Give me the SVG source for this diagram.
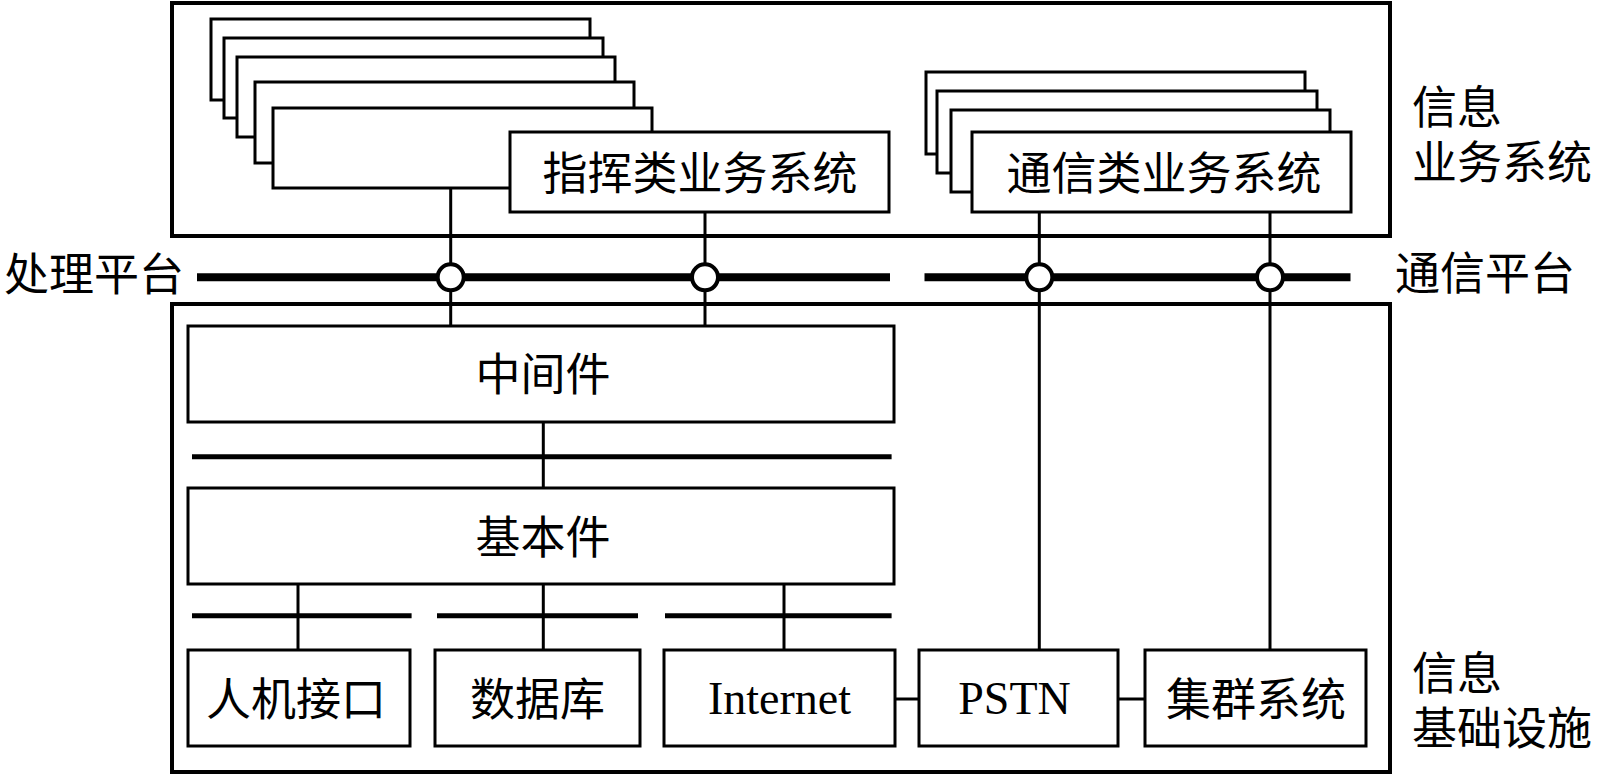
<svg xmlns="http://www.w3.org/2000/svg" width="1600" height="775" viewBox="0 0 1600 775">
<style>
.outer{fill:none;stroke:#000;stroke-width:4}
.box{fill:#fff;stroke:#000;stroke-width:3}
.ln{stroke:#000;stroke-width:3;fill:none}
.sep{stroke:#000;stroke-width:5;fill:none}
.bus{stroke:#000;stroke-width:8;fill:none}
.node{fill:#fff;stroke:#000;stroke-width:4}
.cjk{font-family:"Liberation Serif","Noto Sans CJK SC",serif;font-size:45px;fill:#000}
.lat{font-family:"Liberation Serif",serif;font-size:46px;fill:#000}
.mid{text-anchor:middle}
</style>
<rect width="1600" height="775" fill="#fff"/>

<g id="info-business-layer">
<rect class="outer" x="172" y="3" width="1218" height="233"/>
</g>
<g id="info-infra-layer">
<rect class="outer" x="172" y="304" width="1218" height="468"/>
</g>

<g id="connectors">
<line class="ln" x1="450.7" y1="188" x2="450.7" y2="326"/>
<line class="ln" x1="705" y1="212" x2="705" y2="326"/>
<line class="ln" x1="1039.3" y1="212" x2="1039.3" y2="650"/>
<line class="ln" x1="1270" y1="212" x2="1270" y2="650"/>
<line class="ln" x1="543.3" y1="422" x2="543.3" y2="488"/>
<line class="ln" x1="298" y1="584" x2="298" y2="650"/>
<line class="ln" x1="543.3" y1="584" x2="543.3" y2="650"/>
<line class="ln" x1="784" y1="584" x2="784" y2="650"/>
<line class="ln" x1="895" y1="699" x2="919" y2="699"/>
<line class="ln" x1="1118" y1="699" x2="1145" y2="699"/>
<line class="sep" x1="192" y1="456.7" x2="891.6" y2="456.7"/>
<line class="sep" x1="192" y1="615.7" x2="411.6" y2="615.7"/>
<line class="sep" x1="437" y1="615.7" x2="638" y2="615.7"/>
<line class="sep" x1="665" y1="615.7" x2="891.6" y2="615.7"/>
<line class="bus" x1="197" y1="277.3" x2="890" y2="277.3"/>
<line class="bus" x1="924.5" y1="277.3" x2="1350.5" y2="277.3"/>
<circle class="node" cx="450.7" cy="277.3" r="13"/>
<circle class="node" cx="705" cy="277.3" r="13"/>
<circle class="node" cx="1039.3" cy="277.3" r="13"/>
<circle class="node" cx="1270" cy="277.3" r="13"/>
</g>

<g id="command-systems">
<rect class="box" x="211" y="19" width="379" height="81"/>
<rect class="box" x="224" y="38" width="379" height="80"/>
<rect class="box" x="237" y="57" width="378" height="80"/>
<rect class="box" x="255" y="82" width="379" height="81"/>
<rect class="box" x="273" y="108" width="379" height="80"/>
<rect class="box" x="510" y="132" width="379" height="80"/>
<text class="cjk mid" x="700" y="190">指挥类业务系统</text>
</g>

<g id="comm-systems">
<rect class="box" x="926" y="72" width="379" height="82"/>
<rect class="box" x="937" y="91" width="380" height="82"/>
<rect class="box" x="951" y="110" width="379" height="82"/>
<rect class="box" x="972" y="132" width="379" height="80"/>
<text class="cjk mid" x="1164" y="190">通信类业务系统</text>
</g>

<g id="middleware">
<rect class="box" x="188" y="326" width="706" height="96"/>
<text class="cjk mid" x="543" y="391">中间件</text>
</g>
<g id="basic">
<rect class="box" x="188" y="488" width="706" height="96"/>
<text class="cjk mid" x="543" y="553.5">基本件</text>
</g>
<g id="hmi">
<rect class="box" x="188" y="650" width="222" height="96"/>
<text class="cjk mid" x="296" y="715.5">人机接口</text>
</g>
<g id="database">
<rect class="box" x="435" y="650" width="205" height="96"/>
<text class="cjk mid" x="537.5" y="715.5">数据库</text>
</g>
<g id="internet">
<rect class="box" x="664" y="650" width="231" height="96"/>
<text class="lat mid" x="779.5" y="714.3">Internet</text>
</g>
<g id="pstn">
<rect class="box" x="919" y="650" width="199" height="96"/>
<text class="lat mid" x="1014.5" y="714.3">PSTN</text>
</g>
<g id="trunk">
<rect class="box" x="1145" y="650" width="221" height="96"/>
<text class="cjk mid" x="1256" y="715.5">集群系统</text>
</g>

<g id="labels">
<text class="cjk" x="4" y="291">处理平台</text>
<text class="cjk" x="1395" y="290">通信平台</text>
<text class="cjk" x="1412" y="123.5">信息</text>
<text class="cjk" x="1412" y="178.5">业务系统</text>
<text class="cjk" x="1412" y="690">信息</text>
<text class="cjk" x="1412" y="745">基础设施</text>
</g>
</svg>
